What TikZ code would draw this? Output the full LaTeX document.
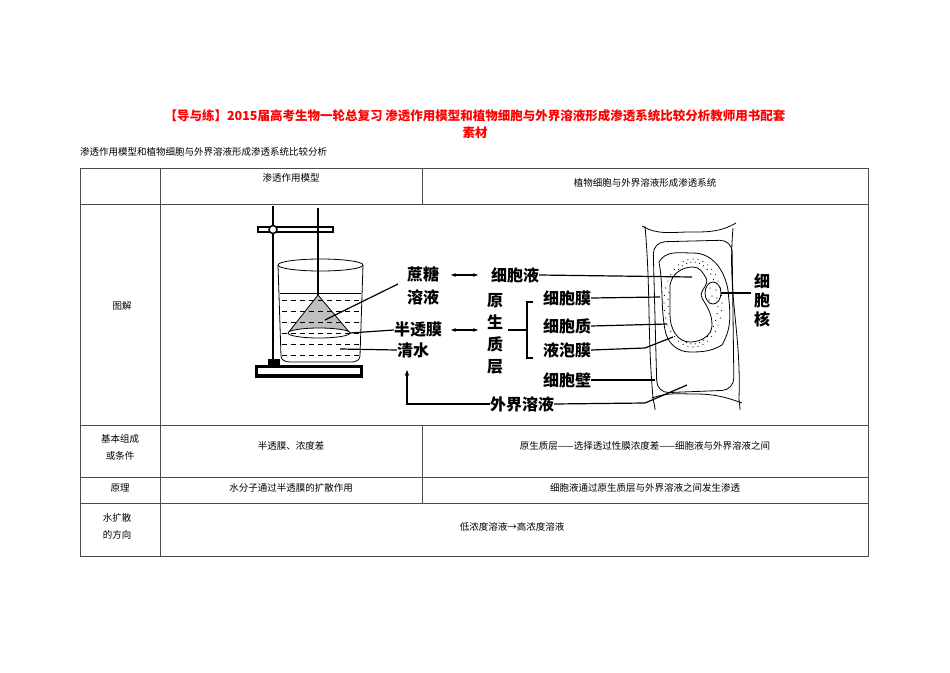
\documentclass[tikz,border=0pt]{standalone}
\usepackage{fontspec}
\setmainfont{Liberation Serif}
\newfontfamily\cjk{Noto Sans CJK SC}
\usetikzlibrary{arrows.meta}
\begin{document}
\begin{tikzpicture}[x=1pt,y=-1pt,
  grid/.style={draw=black!70,line width=0.6pt},
  cell/.style={font=\cjk\fontsize{9.5}{11}\selectfont,inner sep=0pt},
  lab/.style={font=\cjk\bfseries\fontsize{16}{17}\selectfont,inner sep=0pt},
  ln/.style={line width=1.2pt},
  dbl/.style={line width=1.2pt,{Stealth[length=5pt]}-{Stealth[length=5pt]}},
  thin/.style={line width=0.8pt}]
\useasboundingbox (0,0) rectangle (950,672);
% titles
\node[font=\cjk\bfseries\fontsize{12.5}{17}\selectfont,text=red,align=center] (title) at (475,124) {【导与练】2015届高考生物一轮总复习\ 渗透作用模型和植物细胞与外界溶液形成渗透系统比较分析教师用书配套\\素材};
\node[cell,anchor=west] (sub) at (80,152) {渗透作用模型和植物细胞与外界溶液形成渗透系统比较分析};
% table
\draw[grid] (80,168) rectangle (868,556);
\foreach \y in {204,425,477,503} \draw[grid] (80,\y) -- (868,\y);
\draw[grid] (160,168) -- (160,556);
\draw[grid] (422,168) -- (422,204);
\draw[grid] (422,425) -- (422,503);
\node[cell] (h1) at (291,178) {渗透作用模型};
\node[cell] (h2) at (645,183) {植物细胞与外界溶液形成渗透系统};
\node[cell] (r1) at (122,306) {图解};
\node[cell,align=center] (r2) at (120,447) {基本组成\\[6pt]或条件};
\node[cell] (c21) at (291,446) {半透膜、浓度差};
\node[cell] (c22) at (645,446) {原生质层——选择透过性膜浓度差——细胞液与外界溶液之间};
\node[cell] (r3) at (120,488) {原理};
\node[cell] (c31) at (291,488) {水分子通过半透膜的扩散作用};
\node[cell] (c32) at (645,488) {细胞液通过原生质层与外界溶液之间发生渗透};
\node[cell,align=center] (r4) at (117,526) {水扩散\\[6pt]的方向};
\node[cell] (c41) at (512,527) {低浓度溶液→高浓度溶液};
% ---- apparatus ----
\fill[black] (255,365) rectangle (363,378);
\fill[white] (258,368) rectangle (360,374);
\draw[line width=2pt] (273,206) -- (273,366);
\fill[black] (268,359) rectangle (280,366);
\fill[black] (257,226) rectangle (334,233);
\fill[white] (259,228) rectangle (332,231);
\draw[line width=2pt] (318,208) -- (318,295);
\draw[line width=1.5pt,fill=white] (273,229.5) circle (4);
% beaker
\fill[black!25] (318,295) -- (288,333) arc (180:360:31 and 5) -- cycle;
\draw[thin] (318,295) -- (288,333) arc (180:360:31 and 5) -- cycle;
\draw[thin] (288,333) arc (180:0:31 and 5);
\foreach \y in {300,311,322,333,344,355} {
  \draw[thin,dash pattern=on 5pt off 4pt] (282,\y) -- (360,\y);}
\draw[thin] (280,293) -- (361,293);
\draw[thin] (278,265) -- (281,356) to[out=-90,in=180] (290,362) -- (352,362) to[out=0,in=-90] (360,356) -- (363,265);
\draw[thin] (320.5,265) ellipse (42.5 and 6);
% labels
\node[lab] (zt) at (423,274) {蔗糖};
\node[lab] (ry) at (423,297) {溶液};
\node[lab] (btm) at (418,330) {半透膜};
\node[lab] (qs) at (413,350) {清水};
\node[lab] (xbye) at (515,275) {细胞液};
\node[lab,align=center,font=\cjk\bfseries\fontsize{16}{22}\selectfont] (ysz) at (495,334) {原\\生\\质\\层};
\node[lab] (xbm) at (567,298) {细胞膜};
\node[lab] (xbz) at (567,326) {细胞质};
\node[lab] (ypm) at (567,350) {液泡膜};
\node[lab] (xbb) at (567,380) {细胞壁};
\node[lab] (wj) at (522,404) {外界溶液};
\node[lab,align=center,font=\cjk\bfseries\fontsize{16}{19}\selectfont] (xbh) at (762,300) {细\\胞\\核};
\coordinate (cone) at (325,320);
\draw[ln] (cone) -- (398,284);
\draw[ln] (350,333) -- (btm.west);
\draw[ln] (340,349) -- (qs.west);
\draw[dbl] (451,275) -- (478,275);
\draw[dbl] (451,330) -- (478,330);
\draw[ln,-{Stealth[length=6pt]}] (wj.west) -- (407,404) -- (407,370);
\draw[ln] (508,330) -- (527,330);
\draw[ln] (533,302) -- (527,302) -- (527,358) -- (533,358);
% ---- cell ----
\draw[thin] (645,226) to[out=-85,in=95] (653,398) to[out=-85,in=90] (655,410);
\draw[thin] (733,228) to[out=-95,in=88] (739,398) to[out=-90,in=90] (740,410);
\draw[thin] (642,226) to[out=-30,in=180] (690,232) to[out=0,in=-150] (736,223);
\draw[thin] (652,398) to[out=20,in=180] (695,394) to[out=0,in=160] (742,403);
\draw[thin,rounded corners=12pt] (653,242) -- (732,240) -- (734,390) -- (657,393) -- cycle;
\draw[thin,fill=white] (659,262) to[out=60,in=180] (693,253) to[out=0,in=100] (728,290) to[out=-85,in=60] (722,345) to[out=-150,in=0] (690,352) to[out=180,in=-80] (665,330) to[out=100,in=-80] (659,262);
\foreach \i in {0,...,35} {
  \pgfmathsetmacro{\a}{\i*10}
  \fill ({693+29*cos(\a)},{303+44*sin(\a)}) circle (0.6);
  \fill ({693+25*cos(\a+5)},{303+41*sin(\a+5)}) circle (0.6);}
\draw[thin,fill=white] (670,285) to[out=80,in=180] (693,267) to[out=0,in=120] (706,278) to[out=-60,in=120] (702,298) to[out=-60,in=90] (712,325) to[out=-90,in=0] (690,342) to[out=180,in=-90] (670,315) -- cycle;
\draw[thin,fill=white] (713,293) ellipse (8 and 11);
\foreach \p in {(710,288),(716,290),(712,296),(709,300),(717,298)} \fill \p circle (0.6);
\draw[ln] (xbye.east) -- (692,277);
\draw[ln] (xbm.east) -- (660,297);
\draw[ln] (xbz.east) -- (667,324);
\draw[ln] (ypm.east) -- (645,348) -- (673,337);
\draw[ln] (xbb.east) -- (655,380);
\draw[ln] (wj.east) -- (645,403) -- (687,385);
\draw[ln] (721,293) -- (751,293);
\end{tikzpicture}
\end{document}
